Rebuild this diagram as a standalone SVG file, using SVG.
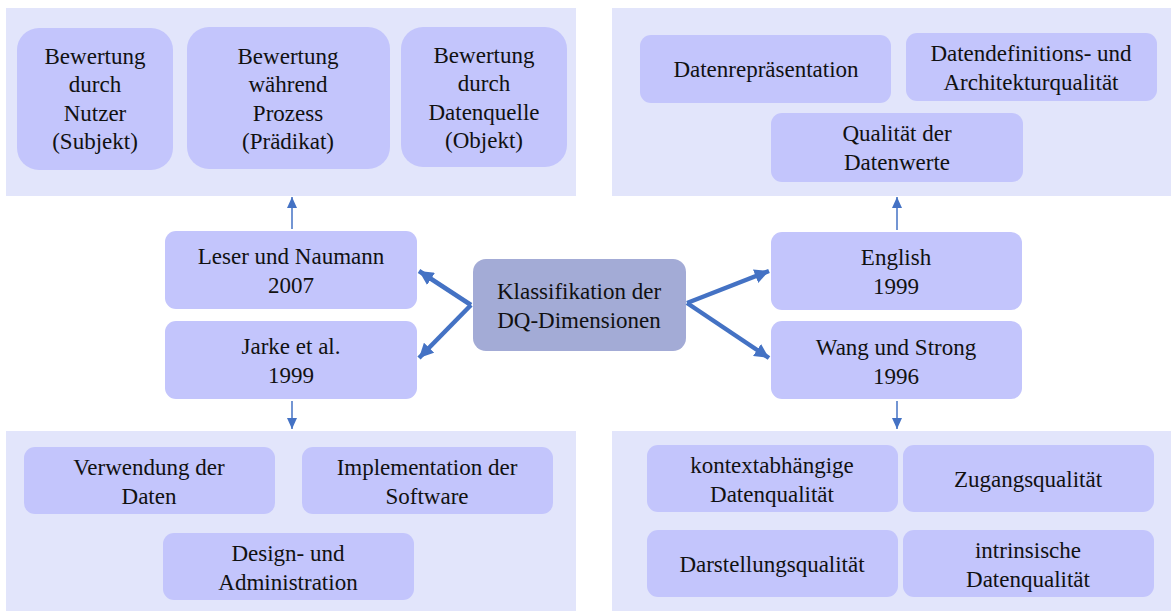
<svg xmlns="http://www.w3.org/2000/svg" width="1171" height="611" viewBox="0 0 1171 611">
<defs>
<style>
.panel{fill:#e2e5fb;}
.node{fill:#c3c5fc;}
.center{fill:#a3abd6;}
text{font-family:"Liberation Serif","Times New Roman",serif;font-size:23px;fill:#111;text-anchor:middle;}
.thick{stroke:#4472c4;stroke-width:4.5;fill:none;marker-end:url(#ah);}
.thin{stroke:#4472c4;stroke-width:1.5;fill:none;marker-end:url(#at);}
</style>
<marker id="ah" viewBox="0 0 10 10" refX="10" refY="5" markerWidth="3.2" markerHeight="3.2" orient="auto" markerUnits="strokeWidth"><path d="M0,0 L10,5 L0,10 z" fill="#4472c4"/></marker>
<marker id="at" viewBox="0 0 11 10" refX="11" refY="5" markerWidth="11" markerHeight="10" orient="auto" markerUnits="userSpaceOnUse"><path d="M0,0 L11,5 L0,10 z" fill="#4472c4"/></marker>
</defs>
<rect width="1171" height="611" fill="#ffffff"/>
<g id="panels">
<rect class="panel" x="6" y="8" width="570" height="188"/>
<rect class="panel" x="612" y="8" width="559" height="188"/>
<rect class="panel" x="6" y="431" width="570" height="180"/>
<rect class="panel" x="612" y="431" width="559" height="180"/>
</g>
<g id="n-nutzer"><rect class="node" x="17" y="28" width="156" height="142" rx="22"/>
<text x="95" y="64">Bewertung</text><text x="95" y="92">durch</text><text x="95" y="121">Nutzer</text><text x="95" y="149">(Subjekt)</text></g>
<g id="n-prozess"><rect class="node" x="187" y="27" width="203" height="142" rx="22"/>
<text x="288" y="64">Bewertung</text><text x="288" y="92">während</text><text x="288" y="121">Prozess</text><text x="288" y="149">(Prädikat)</text></g>
<g id="n-datenquelle"><rect class="node" x="401" y="27" width="166" height="140" rx="22"/>
<text x="484" y="63">Bewertung</text><text x="484" y="91">durch</text><text x="484" y="120">Datenquelle</text><text x="484" y="148">(Objekt)</text></g>
<g id="n-repr"><rect class="node" x="640" y="35" width="251" height="68" rx="11"/>
<text x="766" y="77">Datenrepräsentation</text></g>
<g id="n-datendef"><rect class="node" x="906" y="33" width="251" height="68" rx="11"/>
<text x="1031" y="61">Datendefinitions- und</text><text x="1031" y="90">Architekturqualität</text></g>
<g id="n-datenwerte"><rect class="node" x="771" y="113" width="252" height="69" rx="11"/>
<text x="897" y="141">Qualität der</text><text x="897" y="170">Datenwerte</text></g>
<g id="n-leser"><rect class="node" x="165" y="231" width="252" height="78" rx="11"/>
<text x="291" y="264">Leser und Naumann</text><text x="291" y="293">2007</text></g>
<g id="n-jarke"><rect class="node" x="165" y="321" width="252" height="78" rx="11"/>
<text x="291" y="354">Jarke et al.</text><text x="291" y="383">1999</text></g>
<g id="n-center"><rect class="center" x="473" y="259" width="213" height="92" rx="13"/>
<text x="579" y="299">Klassifikation der</text><text x="579" y="328">DQ-Dimensionen</text></g>
<g id="n-english"><rect class="node" x="771" y="232" width="251" height="78" rx="11"/>
<text x="896" y="265">English</text><text x="896" y="294">1999</text></g>
<g id="n-wang"><rect class="node" x="771" y="321" width="251" height="78" rx="11"/>
<text x="896" y="355">Wang und Strong</text><text x="896" y="384">1996</text></g>
<g id="n-verwendung"><rect class="node" x="24" y="447" width="251" height="67" rx="11"/>
<text x="149" y="475">Verwendung der</text><text x="149" y="504">Daten</text></g>
<g id="n-implementation"><rect class="node" x="302" y="447" width="251" height="67" rx="11"/>
<text x="427" y="475">Implementation der</text><text x="427" y="504">Software</text></g>
<g id="n-design"><rect class="node" x="163" y="533" width="251" height="67" rx="11"/>
<text x="288" y="561">Design- und</text><text x="288" y="590">Administration</text></g>
<g id="n-kontext"><rect class="node" x="647" y="445" width="251" height="67" rx="11"/>
<text x="772" y="473">kontextabhängige</text><text x="772" y="502">Datenqualität</text></g>
<g id="n-zugang"><rect class="node" x="903" y="445" width="251" height="67" rx="11"/>
<text x="1028" y="487">Zugangsqualität</text></g>
<g id="n-darstellung"><rect class="node" x="647" y="530" width="251" height="67" rx="11"/>
<text x="772" y="572">Darstellungsqualität</text></g>
<g id="n-intrinsisch"><rect class="node" x="903" y="530" width="251" height="67" rx="11"/>
<text x="1028" y="558">intrinsische</text><text x="1028" y="587">Datenqualität</text></g>
<g id="connectors">
<line class="thick" x1="471" y1="305" x2="419" y2="271"/>
<line class="thick" x1="471" y1="305" x2="419" y2="358"/>
<line class="thick" x1="687" y1="303" x2="769" y2="271"/>
<line class="thick" x1="687" y1="303" x2="769" y2="358"/>
<line class="thin" x1="292" y1="229" x2="292" y2="197"/>
<line class="thin" x1="292" y1="401" x2="292" y2="429"/>
<line class="thin" x1="897" y1="230" x2="897" y2="197"/>
<line class="thin" x1="897" y1="401" x2="897" y2="429"/>
</g>
</svg>
